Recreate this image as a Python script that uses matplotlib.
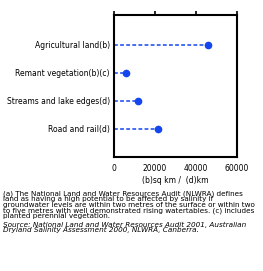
import matplotlib.pyplot as plt

# Land with high salinity potential (NLWRA)
categories = ['Road and rail(d)', 'Streams and lake edges(d)',
              'Remant vegetation(b)(c)', 'Agricultural land(b)']
values = [21500, 11700, 5900, 46000]
xticks = [0, 20000, 40000, 60000]

note = ("(a) The National Land and Water Resources Audit (NLWRA) defines\n"
        "land as having a high potential to be affected by salinity if\n"
        "groundwater levels are within two metres of the surface or within two\n"
        "to five metres with well demonstrated rising watertables. (c) includes\n"
        "planted perennial vegetation.")
source = ("Source: National Land and Water Resources Audit 2001, Australian\n"
          "Dryland Salinity Assessment 2000, NLWRA, Canberra.")

blue = '#1446f0'

fig = plt.figure(figsize=(2.63, 2.71), dpi=100)
ax = fig.add_axes([0.433, 0.421, 0.468, 0.524])

for i, v in enumerate(values):
    ax.plot([0, v], [i, i], color=blue, linestyle=(0, (2.5, 1.5)), linewidth=1.1)
    ax.plot(v, i, 'o', color=blue, markersize=4.5)

ax.set_xlim(0, 60000)
ax.set_ylim(-1.0, 4.07)
ax.set_xticks(xticks)
ax.set_xticklabels([str(t) for t in xticks], fontsize=5.5)
ax.set_yticks(range(len(categories)))
ax.set_yticklabels(categories, fontsize=5.5)
ax.tick_params(axis='y', length=0, pad=3)
ax.tick_params(axis='x', which='both', top=True, bottom=False, direction='out',
               length=3, width=1.2, pad=2)
for s in ax.spines.values():
    s.set_linewidth(1.5)
ax.set_xlabel('(b)sq km /  (d)km', fontsize=5.5, labelpad=2)

fig.text(0.012, 0.298, note, fontsize=5.2, va='top', ha='left', linespacing=0.9)
fig.text(0.012, 0.182, source, fontsize=5.2, va='top', ha='left', style='italic',
         linespacing=0.9)

fig.savefig('out.png', dpi=100)
